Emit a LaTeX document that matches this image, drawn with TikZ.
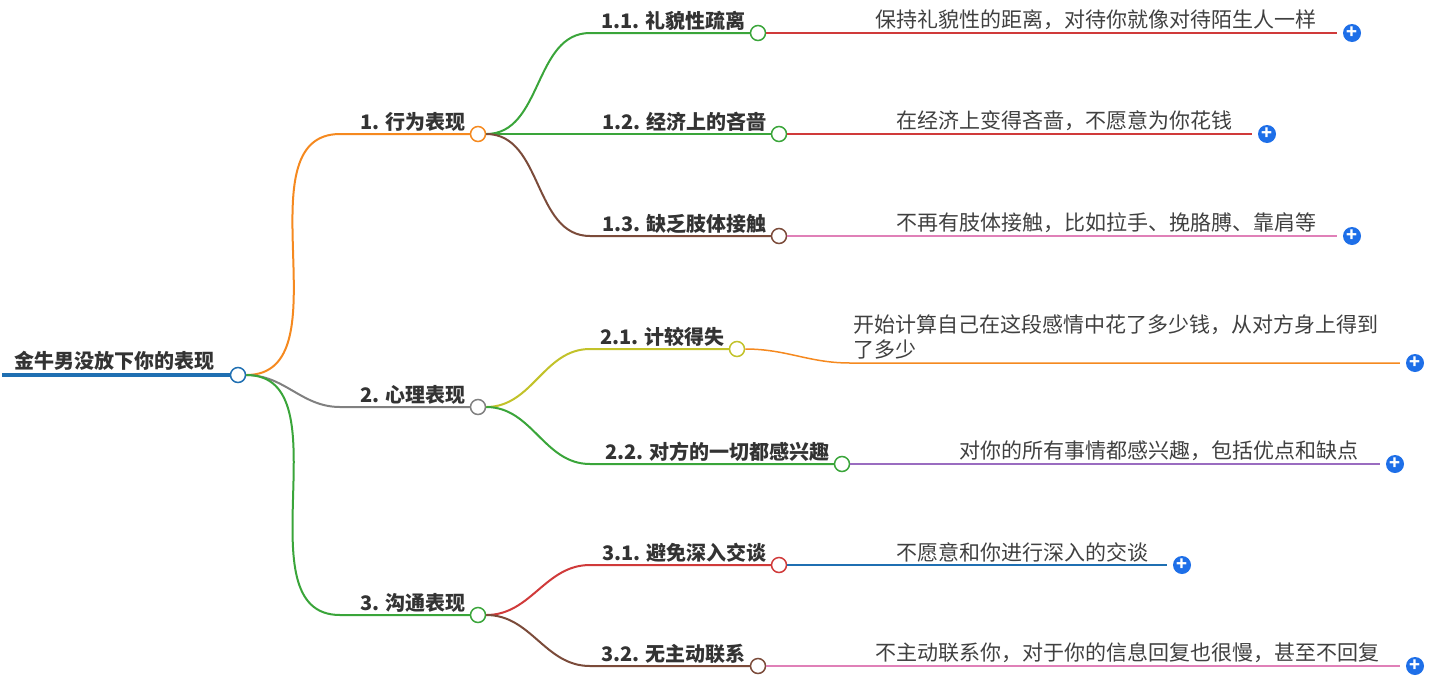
\documentclass[tikz,border=0pt]{standalone}
\usepackage{fontspec}
\setmainfont{Noto Sans CJK SC}
\definecolor{cblue}{HTML}{1F6FB2}
\definecolor{corange}{HTML}{F5891F}
\definecolor{cgray}{HTML}{808080}
\definecolor{cgreen}{HTML}{3AA53A}
\definecolor{cbrown}{HTML}{7B4B3A}
\definecolor{cred}{HTML}{D03A3A}
\definecolor{cpink}{HTML}{E080B8}
\definecolor{colive}{HTML}{C2C22A}
\definecolor{cpurple}{HTML}{9A6CC0}
\definecolor{cplus}{HTML}{1E6FE8}
\tikzset{
  dot/.style={circle,draw=#1,fill=white,line width=1.5pt,minimum size=15pt,inner sep=0pt},
  lbl/.style={font=\fontsize{20}{22}\selectfont\bfseries,text=black!80,anchor=south east,inner sep=2pt},
  leaf/.style={font=\fontsize{21}{25}\selectfont,text=black!75,anchor=south west,inner sep=1pt,align=left},
  plus/.style={circle,fill=cplus,minimum size=18pt,inner sep=0pt,text=white,font=\bfseries\fontsize{18}{18}\selectfont},
  br/.style={line width=2pt,#1},
  ln/.style={line width=1.5pt,#1}
}
\begin{document}
\begin{tikzpicture}[x=1pt,y=-1pt]
\useasboundingbox (0,0) rectangle (1438,686);
% root
\coordinate (r0) at (2,375);
\node[dot=cblue] (r) at (238,375) {};
\draw[line width=4pt,cblue] (r0) -- (r.west);
\node[font=\fontsize{20}{22}\selectfont\bfseries,text=black!80,anchor=south west,inner sep=2pt] (rt) at (12,373) {金牛男没放下你的表现};
% level 1
\node[dot=corange] (a) at (478,134) {};
\node[dot=cgray] (b) at (478,407) {};
\node[dot=cgreen] (c) at (478,615) {};
\coordinate (a0) at (340,134);
\coordinate (b0) at (340,407);
\coordinate (c0) at (340,615);
\draw[br=corange] (r.east) to[out=0,in=180] (a0) -- (a.west);
\draw[br=cgray] (r.east) to[out=0,in=180] (b0) -- (b.west);
\draw[br=cgreen] (r.east) to[out=0,in=180] (c0) -- (c.west);
\node[lbl] at (468,134) {1. 行为表现};
\node[lbl] at (468,407) {2. 心理表现};
\node[lbl] at (468,615) {3. 沟通表现};
% level 2
\node[dot=cgreen] (a1) at (758,33) {};
\node[dot=cgreen] (a2) at (779,134) {};
\node[dot=cbrown] (a3) at (779,236) {};
\node[dot=colive] (b1) at (737,349) {};
\node[dot=cgreen] (b2) at (842,464) {};
\node[dot=cred] (c1) at (779,565) {};
\node[dot=cbrown] (c2) at (758,666) {};
\foreach \p/\q/\col in {a/a1/cgreen,a/a2/cgreen,a/a3/cbrown,b/b1/colive,b/b2/cgreen,c/c1/cred,c/c2/cbrown}{
  \coordinate (\q0) at (590,0 |- \q);
  \draw[br=\col] (\p.east) to[out=0,in=180] (\q0) -- (\q.west);
}
\node[lbl] at (748,33) {1.1. 礼貌性疏离};
\node[lbl] at (769,134) {1.2. 经济上的吝啬};
\node[lbl] at (769,236) {1.3. 缺乏肢体接触};
\node[lbl] at (727,349) {2.1. 计较得失};
\node[lbl] at (832,464) {2.2. 对方的一切都感兴趣};
\node[lbl] at (769,565) {3.1. 避免深入交谈};
\node[lbl] at (748,666) {3.2. 无主动联系};
% leaves
\node[plus] (p1) at (1352,33) {+};
\node[plus] (p2) at (1267,134) {+};
\node[plus] (p3) at (1352,236) {+};
\node[plus] (p4) at (1415,363) {+};
\node[plus] (p5) at (1395,464) {+};
\node[plus] (p6) at (1182,565) {+};
\node[plus] (p7) at (1415,666) {+};
\draw[ln=cred] (a1.east) -- ([xshift=-6pt]p1.west);
\draw[ln=cred] (a2.east) -- ([xshift=-6pt]p2.west);
\draw[ln=cpink] (a3.east) -- ([xshift=-6pt]p3.west);
\coordinate (b1x) at (850,363);
\draw[ln=corange] (b1.east) to[out=0,in=180] (b1x) -- ([xshift=-6pt]p4.west);
\draw[ln=cpurple] (b2.east) -- ([xshift=-6pt]p5.west);
\draw[ln=cblue] (c1.east) -- ([xshift=-6pt]p6.west);
\draw[ln=cpink] (c2.east) -- ([xshift=-6pt]p7.west);
\node[leaf] at (874,31) {保持礼貌性的距离，对待你就像对待陌生人一样};
\node[leaf] at (895,132) {在经济上变得吝啬，不愿意为你花钱};
\node[leaf] at (895,234) {不再有肢体接触，比如拉手、挽胳膊、靠肩等};
\node[leaf] at (852,360) {开始计算自己在这段感情中花了多少钱，从对方身上得到\\了多少};
\node[leaf] at (958,462) {对你的所有事情都感兴趣，包括优点和缺点};
\node[leaf] at (895,563) {不愿意和你进行深入的交谈};
\node[leaf] at (874,664) {不主动联系你，对于你的信息回复也很慢，甚至不回复};
\end{tikzpicture}
\end{document}
